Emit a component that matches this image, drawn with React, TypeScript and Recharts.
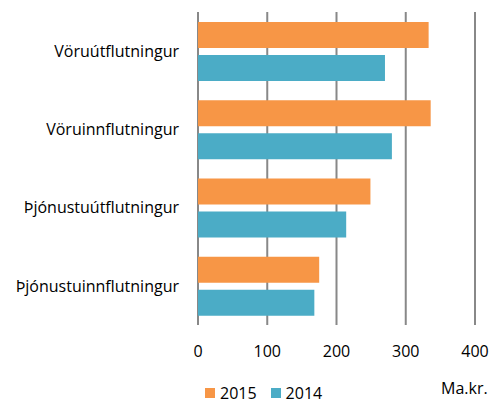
import React from 'react';
import { BarChart, Bar, XAxis, YAxis, CartesianGrid, Legend } from 'recharts';

// Ma.kr. by category
const categories = ['Vöruútflutningur', 'Vöruinnflutningur', 'Þjónustuútflutningur', 'Þjónustuinnflutningur'];
const values2015 = [333, 336, 249, 175];
const values2014 = [270, 280, 214, 168];
const xTicks = [0, 100, 200, 300, 400];

const data = categories.map((name, i) => ({ name, y2015: values2015[i], y2014: values2014[i] }));

const FONT = '"Open Sans", Lato, sans-serif';

const LegendContent = () => (
  <div style={{ display: 'flex', alignItems: 'center', fontFamily: FONT, fontSize: 16, color: '#000', lineHeight: '16px', height: 16 }}>
    <span style={{ width: 10, height: 10, background: '#F79646', display: 'inline-block', marginRight: 5 }} />
    <span style={{ marginRight: 14 }}>2015</span>
    <span style={{ width: 10, height: 10, background: '#4BACC6', display: 'inline-block', marginRight: 5 }} />
    <span>2014</span>
  </div>
);

const App: React.FC = () => {
  return (
    <div style={{ position: 'absolute', left: 0, top: 0, width: 501, height: 403, background: '#fff' }}>
      <BarChart
        width={501}
        height={403}
        data={data}
        layout="vertical"
        margin={{ top: 12, right: 26, bottom: 22, left: 0 }}
        barSize={26}
        barGap={7}
      >
        <CartesianGrid horizontal={false} stroke="#888" strokeWidth={2} />
        <XAxis
          type="number"
          domain={[0, 400]}
          ticks={xTicks}
          axisLine={false}
          tickLine={false}
          height={40}
          tickMargin={15}
          tick={{ fill: '#000', fontSize: 16, fontFamily: FONT }}
        />
        <YAxis
          type="category"
          dataKey="name"
          width={198}
          axisLine={false}
          tickLine={false}
          tickMargin={13}
          tick={{ fill: '#000', fontSize: 16, fontFamily: FONT }}
        />
        <Legend content={<LegendContent />} wrapperStyle={{ position: 'absolute', left: 205, top: 385, width: 'auto' }} />
        <Bar dataKey="y2015" name="2015" fill="#F79646" isAnimationActive={false} />
        <Bar dataKey="y2014" name="2014" fill="#4BACC6" isAnimationActive={false} />
      </BarChart>
      <div style={{ position: 'absolute', left: 441, top: 377, fontFamily: FONT, fontSize: 16, color: '#000' }}>Ma.kr.</div>
    </div>
  );
};

export default App;
